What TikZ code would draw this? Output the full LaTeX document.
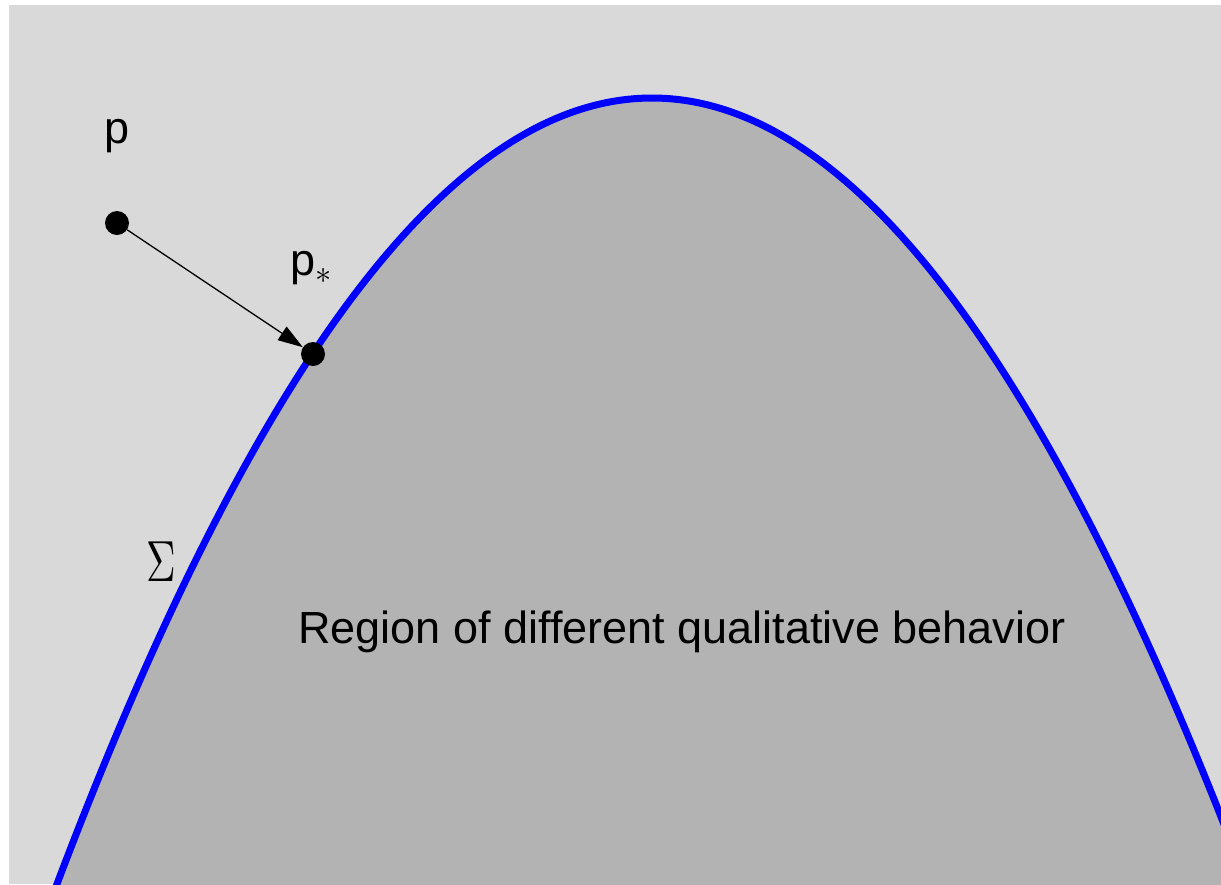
\documentclass[tikz,border=0pt]{standalone}
\usepackage{fontspec}
\setmainfont{Liberation Sans}
\usetikzlibrary{arrows.meta}
\definecolor{bgout}{HTML}{D9D9D9}
\definecolor{region}{HTML}{B3B3B3}
\begin{document}
\begin{tikzpicture}[x=1pt,y=-1pt,
  dot/.style={circle,fill=black,inner sep=0pt,minimum size=24pt},
  lbl/.style={font=\fontsize{45}{54}\selectfont,inner sep=0pt,anchor=base},
  curve/.style={blue,line width=7pt}]
\useasboundingbox (0,0) rectangle (1221,884);
\fill[white] (0,0) rectangle (1221,884);
\fill[bgout] (9,5) rectangle (1221,884);
\begin{scope}
  \clip (9,5) rectangle (1221,884);
  \fill[region] plot[domain=40:1260,samples=245] (\x,{98+22.2*((\x-652)/100)*((\x-652)/100)}) -- (1260,1000) -- (40,1000) -- cycle;
  \draw[curve] plot[domain=40:1260,samples=245] (\x,{98+22.2*((\x-652)/100)*((\x-652)/100)});
\end{scope}
\node[dot] (p) at (117,223) {};
\node[dot] (ps) at (313,354) {};
\draw[line width=1.3pt,-{Triangle[length=25pt,width=16pt]}] (p) -- (ps);
\node[lbl] (lp) at (117,143) {p};
\node[lbl] (lps) at (311,275) {p\raisebox{-4pt}{\scalebox{1.3}{$_\ast$}}};
\node[inner sep=0pt] (sig) at (161,562) {\scalebox{4.1}[5.8]{$\Sigma$}};
\node[lbl] (reg) at (682,643) {Region of different qualitative behavior};
\end{tikzpicture}
\end{document}
